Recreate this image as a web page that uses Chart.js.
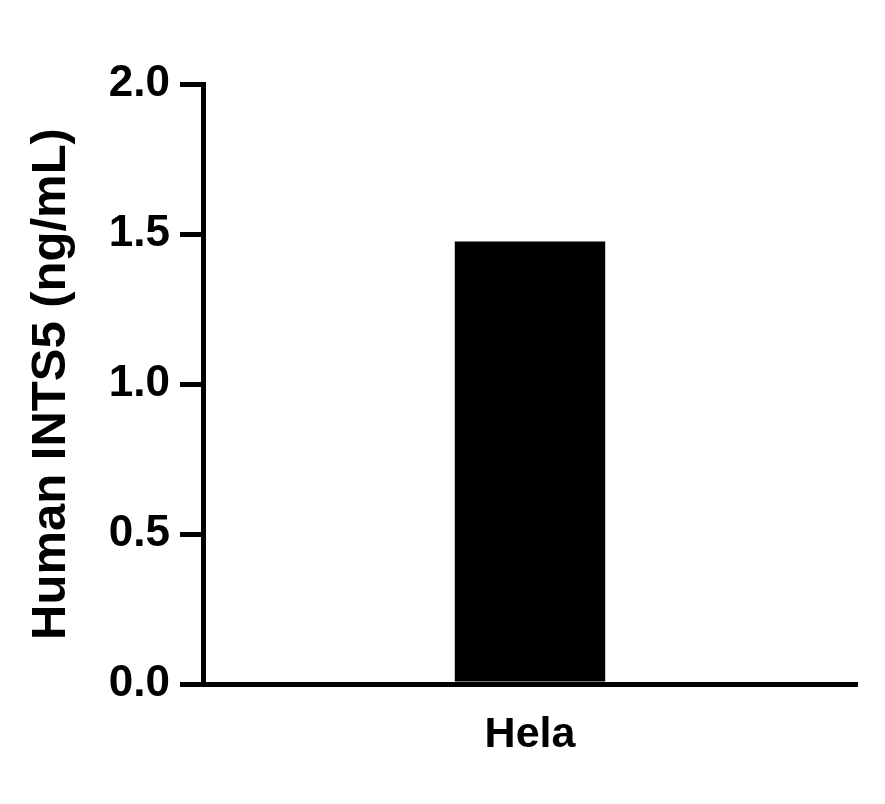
<!DOCTYPE html>
<html>
<head>
<meta charset="utf-8">
<script src="https://cdn.jsdelivr.net/npm/chart.js@4"></script>
<style>
  body { margin: 0; background: #fff; }
</style>
</head>
<body>
<canvas id="my-chart" width="885" height="804"></canvas>
<script>
// Data for the chart
const categories = ["Hela"];
const concentration = [1.475]; // Human INTS5 (ng/mL)
const yTicks = [0, 0.5, 1.0, 1.5, 2.0];

const font = "'Liberation Sans', Arial, Helvetica, sans-serif";

const myChartElement = document.getElementById("my-chart");

let myChart = new Chart(myChartElement, {
    type: "bar",
    data: {
        labels: categories,
        datasets: [{
            label: "Human INTS5",
            data: concentration,
            backgroundColor: '#000000',
            borderWidth: 0,
            barPercentage: 0.23,
            categoryPercentage: 1
        }]
    },
    options: {
        responsive: false,
        animation: false,
        layout: {
            padding: { top: 84, right: 28, left: 0, bottom: 0 }
        },
        scales: {
            x: {
                grid: { display: false },
                border: { color: '#000', width: 5 },
                ticks: {
                    color: '#000',
                    padding: 17,
                    font: { family: font, size: 43, weight: 'bold' }
                },
                afterFit: function (scale) { scale.height = 120; }
            },
            y: {
                min: 0,
                max: 2,
                afterBuildTicks: function (scale) {
                    scale.ticks = yTicks.map(v => ({ value: v }));
                },
                grid: {
                    drawOnChartArea: false,
                    drawTicks: true,
                    tickLength: 23,
                    color: '#000',
                    lineWidth: 5
                },
                border: { color: '#000', width: 5 },
                ticks: {
                    color: '#000',
                    padding: 10,
                    font: { family: font, size: 44, weight: 'bold' },
                    callback: v => Number(v).toFixed(1)
                },
                title: {
                    display: true,
                    text: "Human INTS5 (ng/mL)",
                    color: '#000',
                    padding: { top: 22, bottom: 0 },
                    font: { family: font, size: 49, weight: 'bold' }
                },
                afterFit: function (scale) { scale.width = 203; }
            }
        },
        plugins: {
            legend: { display: false },
            tooltip: { enabled: false }
        }
    }
});
</script>
</body>
</html>
